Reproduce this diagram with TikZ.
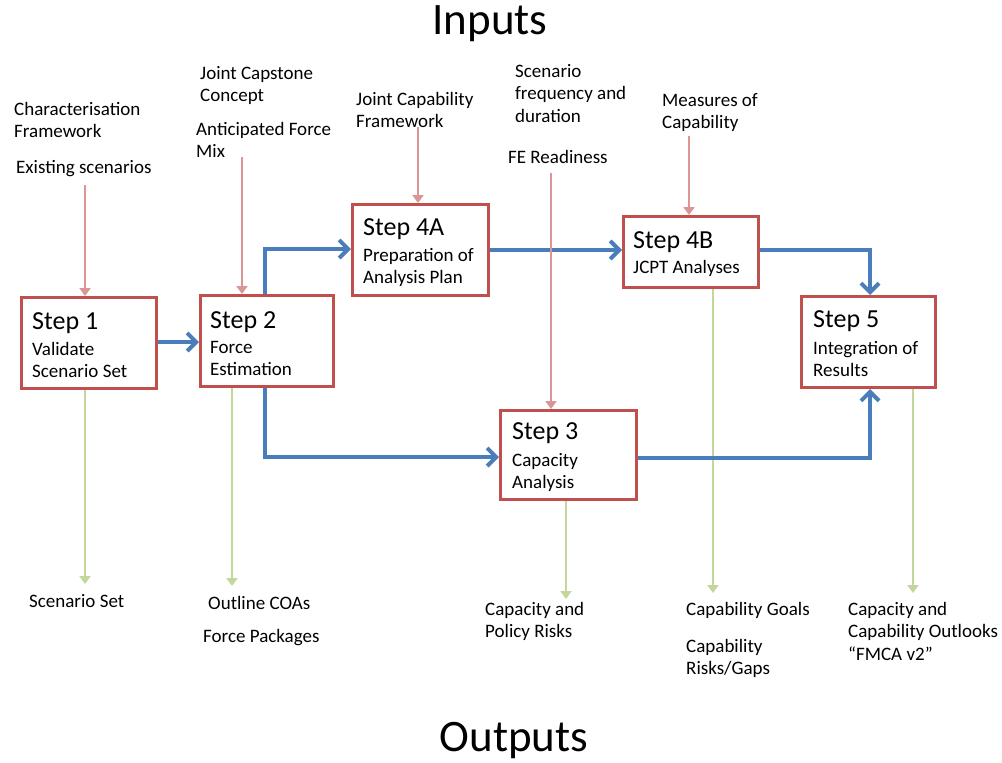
\documentclass[tikz,border=0pt]{standalone}
\usepackage{fontspec}
\setmainfont{Carlito}
\usetikzlibrary{arrows.meta,calc}
\definecolor{boxred}{HTML}{C0504D}
\definecolor{flowblue}{HTML}{4A7EBB}
\definecolor{inpink}{HTML}{D99694}
\definecolor{outgreen}{HTML}{C3D69B}
\tikzset{
  stepbox/.style={draw=boxred, line width=3pt, fill=white, inner sep=0pt, anchor=north west},
  steptitle/.style={anchor=base west, inner sep=0pt, font=\fontsize{26}{30}\selectfont},
  stepsub/.style={anchor=base west, inner sep=0pt, align=left, font=\fontsize{19}{22}\selectfont},
  label/.style={anchor=base west, inner sep=0pt, align=left, font=\fontsize{19}{22.5}\selectfont},
  flow/.style={draw=flowblue, line width=4pt, -{Straight Barb[length=9pt,width=18pt,line width=4pt]}},
  inarrow/.style={draw=inpink, line width=2.5pt, -{Triangle[length=8pt,width=11pt]}},
  outarrow/.style={draw=outgreen, line width=2.5pt, -{Triangle[length=8pt,width=11pt]}},
  heading/.style={inner sep=0pt, font=\fontsize{45}{50}\selectfont}
}
\begin{document}
\begin{tikzpicture}[x=1pt,y=-1pt]
\useasboundingbox (0,0) rectangle (1002,763);
\fill[white] (0,0) rectangle (1002,763);

% headings
\node[heading] (inputs) at (490,24) {Inputs};
\node[heading] (outputs) at (514,741) {Outputs};

% input labels (base = baseline of last line)
\node[label] (l1) at (14,137.5) {Characterisation\\Framework};
\node[label] (l2) at (16,173) {Existing scenarios};
\node[label] (l3) at (200,101.5) {Joint Capstone\\Concept};
\node[label] (l4) at (196,157.5) {Anticipated Force\\Mix};
\node[label] (l5) at (356,127.5) {Joint Capability\\Framework};
\node[label] (l6) at (515,122) {Scenario\\frequency and\\duration};
\node[label] (l7) at (508,163) {FE Readiness};
\node[label] (l8) at (662,128.5) {Measures of\\Capability};

% output labels
\node[label] (o1) at (29,607) {Scenario Set};
\node[label] (o2) at (208,609) {Outline COAs};
\node[label] (o3) at (203,642) {Force Packages};
\node[label] (o4) at (485,637.5) {Capacity and\\Policy Risks};
\node[label] (o5) at (686,615) {Capability Goals};
\node[label] (o6) at (686,674.5) {Capability\\Risks/Gaps};
\node[label] (o7) at (848,660) {Capacity and\\Capability Outlooks\\“FMCA v2”};

% coordinates for arrow starts / ends
\coordinate (c1) at (85,185);
\coordinate (c2) at (242,157);
\coordinate (c3) at (418,127);
\coordinate (c4) at (551,173);
\coordinate (c5) at (689,136);
\coordinate (g1) at (85,584);
\coordinate (g2) at (232,586);
\coordinate (g3) at (566,599);
\coordinate (g4) at (713,593);
\coordinate (g5) at (913,593);

% boxes
\node[stepbox, minimum width=135pt, minimum height=91pt] (s1) at (20,296) {};
\node[stepbox, minimum width=133pt, minimum height=91pt] (s2) at (199,294) {};
\node[stepbox, minimum width=136pt, minimum height=91pt] (s4a) at (351,203) {};
\node[stepbox, minimum width=135pt, minimum height=71pt] (s4b) at (622,215) {};
\node[stepbox, minimum width=134pt, minimum height=91pt] (s5) at (800,295) {};
\node[stepbox, minimum width=136pt, minimum height=89pt] (s3) at (499,409) {};

% green output arrows
\draw[outarrow] (s1.south -| c1) -- (g1);
\draw[outarrow] (s2.south -| g2) -- (g2);
\draw[outarrow] (s3.south -| g3) -- (g3);
\draw[outarrow] (s4b.south -| g4) -- (g4);
\draw[outarrow] (s5.south -| g5) -- (g5);

% blue flow arrows
\coordinate (j2) at (265,0);
\coordinate (j5) at (870,0);
\draw[flow] (s1.east |- 0,342) -- (s2.west |- 0,342);
\draw[flow] (s2.north -| j2) |- (s4a.west |- 0,249);
\draw[flow] (s2.south -| j2) |- (s3.west |- 0,457);
\draw[flow] (s4a.east |- 0,250) -- (s4b.west |- 0,250);
\draw[flow] (s4b.east |- 0,250) -| (s5.north -| j5);
\draw[flow] (s3.east |- 0,458) -| (s5.south -| j5);

% pink input arrows
\draw[inarrow] (c1) -- (s1.north -| c1);
\draw[inarrow] (c2) -- (s2.north -| c2);
\draw[inarrow] (c3) -- (s4a.north -| c3);
\draw[inarrow] (c4) -- (s3.north -| c4);
\draw[inarrow] (c5) -- (s4b.north -| c5);

% box texts
\node[steptitle] (t1) at ($(s1.north west)+(12,33)$) {Step 1};
\node[stepsub] (u1) at ($(s1.north west)+(12,81)$) {Validate\\Scenario Set};
\node[steptitle] (t2) at ($(s2.north west)+(11,34)$) {Step 2};
\node[stepsub] (u2) at ($(s2.north west)+(11,81)$) {Force\\Estimation};
\node[steptitle] (t4a) at ($(s4a.north west)+(12,32)$) {Step 4A};
\node[stepsub] (u4a) at ($(s4a.north west)+(12,80)$) {Preparation of\\Analysis Plan};
\node[steptitle] (t4b) at ($(s4b.north west)+(11,33)$) {Step 4B};
\node[stepsub] (u4b) at ($(s4b.north west)+(11,58)$) {JCPT Analyses};
\node[steptitle] (t5) at ($(s5.north west)+(13,32)$) {Step 5};
\node[stepsub] (u5) at ($(s5.north west)+(13,81)$) {Integration of\\Results};
\node[steptitle] (t3) at ($(s3.north west)+(13,30)$) {Step 3};
\node[stepsub] (u3) at ($(s3.north west)+(13,79)$) {Capacity\\Analysis};
\end{tikzpicture}
\end{document}
